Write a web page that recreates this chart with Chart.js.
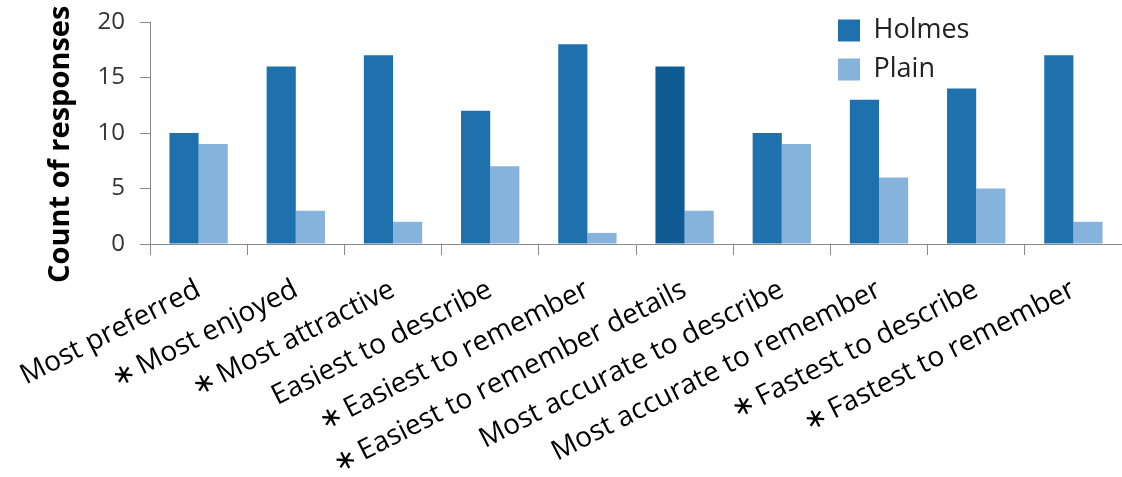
<!DOCTYPE html>
<html>
<head>
<meta charset="utf-8">
<script src="https://cdn.jsdelivr.net/npm/chart.js@4/dist/chart.umd.min.js"></script>
<style>
  html, body { margin: 0; padding: 0; background: #fff; }
  #wrap { width: 1122px; height: 477px; }
</style>
</head>
<body>
<div id="wrap"><canvas id="chart"></canvas></div>
<script>
/* data */
const categories = [
    'Most preferred',
    '\u2217\u2009Most enjoyed',
    '\u2217\u2009Most attractive',
    'Easiest to describe',
    '\u2217\u2009Easiest to remember',
    '\u2217\u2009Easiest to remember details',
    'Most accurate to describe',
    'Most accurate to remember',
    '\u2217\u2009Fastest to describe',
    '\u2217\u2009Fastest to remember'
];
const holmes = [10, 16, 17, 12, 18, 16, 10, 13, 14, 17];
const plain = [9, 3, 2, 7, 1, 3, 9, 6, 5, 2];
const yTicks = [0, 5, 10, 15, 20];

const FONT = "'Open Sans', 'Liberation Sans', 'DejaVu Sans', sans-serif";
const AXIS = '#8a8a8a';

// the sixth Holmes bar is a shade darker in the original
const holmesColors = holmes.map((v, i) => i === 5 ? '#0e5c93' : '#1f71ae');

/* move the in-chart legend to the top right corner */
const legendSpot = {
    id: 'legendSpot',
    afterLayout(chart) {
        const lg = chart.legend;
        lg.left = 826;
        lg.top = 5;
        lg.right = lg.left + lg.width;
        lg.bottom = lg.top + lg.height;
    }
};

let ctx = document.getElementById('chart');
let chart = new Chart(ctx, {
    type: 'bar',
    data: {
        labels: categories,
        datasets: [{
            label: 'Holmes',
            data: holmes,
            backgroundColor: holmesColors,
            categoryPercentage: 0.6,
            barPercentage: 1.0
        }, {
            label: 'Plain',
            data: plain,
            backgroundColor: '#85b3dc',
            categoryPercentage: 0.6,
            barPercentage: 1.0
        }]
    },
    options: {
        responsive: true,
        maintainAspectRatio: false,
        animation: false,
        layout: { padding: { top: 22, right: -4, left: 0, bottom: 0 } },
        scales: {
            x: {
                grid: {
                    offset: true,
                    drawOnChartArea: false,
                    drawTicks: true,
                    tickLength: 11,
                    color: AXIS
                },
                border: { color: AXIS, width: 1 },
                ticks: {
                    autoSkip: false,
                    minRotation: 27,
                    maxRotation: 27,
                    padding: 18,
                    color: '#000',
                    font: { family: FONT, size: 28 }
                },
                afterFit: (s) => {
                    s.height = 233;
                    s.paddingLeft = 0;
                    s.paddingRight = 0;
                }
            },
            y: {
                min: 0,
                max: 20,
                afterBuildTicks: (s) => { s.ticks = yTicks.map(v => ({ value: v })); },
                grid: {
                    drawOnChartArea: false,
                    drawTicks: true,
                    tickLength: 10,
                    color: AXIS
                },
                border: { color: AXIS, width: 1 },
                ticks: {
                    padding: 15,
                    color: '#333',
                    font: { family: FONT, size: 24 }
                },
                title: {
                    display: true,
                    text: 'Count of responses   ',
                    color: '#000',
                    padding: { top: 43, bottom: 0 },
                    font: { family: FONT, size: 29, weight: 'bold' }
                },
                afterFit: (s) => {
                    s.width = 150;
                    s.paddingTop = 0;
                    s.paddingBottom = 0;
                }
            }
        },
        plugins: {
            legend: {
                position: 'chartArea',
                align: 'start',
                labels: {
                    boxWidth: 22,
                    boxHeight: 22,
                    padding: 12,
                    color: '#222',
                    font: { family: FONT, size: 27 }
                }
            },
            tooltip: { enabled: false }
        }
    },
    plugins: [legendSpot]
});
</script>
</body>
</html>
